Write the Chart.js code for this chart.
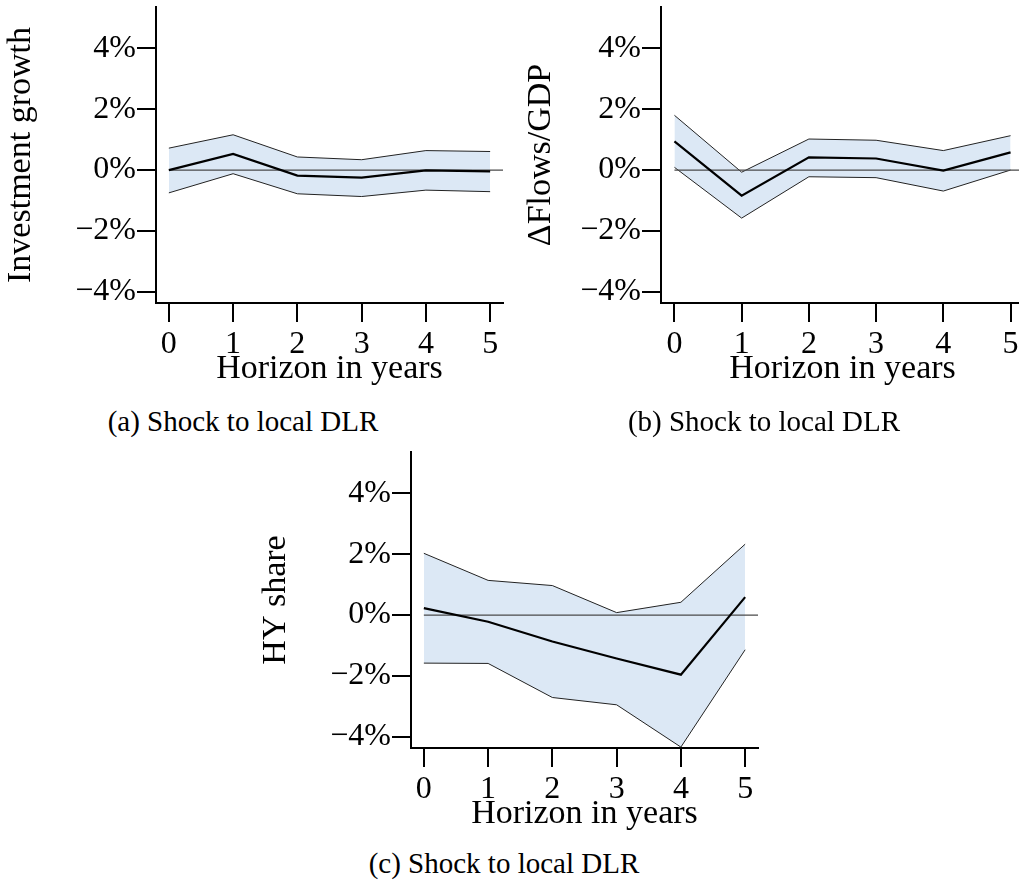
<!DOCTYPE html>
<html>
<head>
<meta charset="utf-8">
<script src="https://cdn.jsdelivr.net/npm/chart.js@4.4.1/dist/chart.umd.min.js"></script>
<style>
  html, body { margin: 0; padding: 0; background: #fff; overflow: hidden; }
  body { width: 1019px; height: 884px; position: relative; }
  canvas { position: absolute; }
  .caption { position: absolute; width: 400px; text-align: center; font-family: 'Liberation Serif', serif; font-size: 29px; line-height: 30px; color: #000; white-space: nowrap; }
</style>
</head>
<body>
<canvas id="chartA" width="515" height="395" style="left:0;top:0;width:515px;height:395px"></canvas>
<canvas id="chartB" width="530" height="395" style="left:505px;top:0;width:530px;height:395px"></canvas>
<canvas id="chartC" width="515" height="395" style="left:255px;top:445px;width:515px;height:395px"></canvas>
<div class="caption" style="left:43px;top:406px">(a) Shock to local DLR</div>
<div class="caption" style="left:564px;top:406px">(b) Shock to local DLR</div>
<div class="caption" style="left:304px;top:848px">(c) Shock to local DLR</div>
<script>
const horizons = [0, 1, 2, 3, 4, 5];
const xTicks = [0, 1, 2, 3, 4, 5];
const yTicks = [-4, -2, 0, 2, 4];
const X_MIN = -0.2, X_MAX = 5.2;
const Y_MIN = -4.37, Y_MAX = 5.36;

// (a) investment growth
const invMid = [0, 0.53, -0.18, -0.25, -0.01, -0.04];
const invUpper = [0.72, 1.16, 0.43, 0.34, 0.64, 0.61];
const invLower = [-0.75, -0.12, -0.78, -0.87, -0.66, -0.71];

// (b) flows / GDP
const flowMid = [0.94, -0.84, 0.42, 0.38, -0.02, 0.58];
const flowUpper = [1.80, -0.07, 1.02, 0.98, 0.64, 1.13];
const flowLower = [0.09, -1.58, -0.22, -0.25, -0.69, 0.0];

// (c) HY share
const hyMid = [0.23, -0.22, -0.87, -1.43, -1.96, 0.59];
const hyUpper = [2.03, 1.14, 0.97, 0.08, 0.42, 2.33];
const hyLower = [-1.58, -1.59, -2.71, -2.95, -4.34, -1.14];

const BAND = '#dce8f5';
const tickFont = { family: "'Liberation Serif', serif", size: 32 };
const titleFont = { family: "'Liberation Serif', serif", size: 34 };

function pts(vals) {
  return horizons.map((h, i) => ({ x: h, y: vals[i] }));
}

// no label-overflow padding, the plot box is fixed by hand
function noPad(s) {
  s.paddingTop = 0;
  s.paddingBottom = 0;
  s.paddingLeft = 0;
  s.paddingRight = 0;
}

function buildPanel(id, yTitle, mid, upper, lower, padRight, yTitlePad) {
  return new Chart(document.getElementById(id), {
    type: 'line',
    data: {
      datasets: [
        { data: pts(mid), borderColor: '#000', borderWidth: 2.2, order: 0 },
        { data: [{ x: horizons[0], y: 0 }, { x: X_MAX, y: 0 }], borderColor: '#4a4a4a', borderWidth: 1.2, order: 1 },
        { data: pts(upper), borderColor: '#222', borderWidth: 1, fill: '+1', backgroundColor: BAND, order: 2 },
        { data: pts(lower), borderColor: '#222', borderWidth: 1, order: 3 }
      ]
    },
    options: {
      responsive: false,
      animation: false,
      devicePixelRatio: 1,
      layout: { autoPadding: false, padding: { left: 0, top: 7, right: padRight, bottom: 0 } },
      plugins: {
        legend: { display: false },
        tooltip: { enabled: false },
        filler: { drawTime: 'beforeDatasetsDraw' }
      },
      elements: { point: { radius: 0 }, line: { tension: 0 } },
      scales: {
        x: {
          type: 'linear', min: X_MIN, max: X_MAX,
          afterBuildTicks: (s) => { s.ticks = xTicks.map((v) => ({ value: v })); },
          afterFit: (s) => { s.height = 92; noPad(s); },
          border: { display: true, color: '#000', width: 2 },
          grid: { drawOnChartArea: false, drawTicks: true, tickLength: 19, color: '#000', lineWidth: 2 },
          ticks: { font: tickFont, color: '#000', padding: 3, maxRotation: 0, autoSkip: false },
          title: { display: true, text: 'Horizon in years', font: titleFont, color: '#000', padding: { top: 0, bottom: 6 } }
        },
        y: {
          type: 'linear', min: Y_MIN, max: Y_MAX,
          afterBuildTicks: (s) => { s.ticks = yTicks.map((v) => ({ value: v })); },
          afterFit: (s) => { s.width = 156; noPad(s); },
          border: { display: true, color: '#000', width: 2 },
          grid: { drawOnChartArea: false, drawTicks: true, tickLength: 19, color: '#000', lineWidth: 2 },
          ticks: {
            font: tickFont, color: '#000', padding: 1, autoSkip: false,
            callback: (v) => (v < 0 ? '\u2212' + Math.abs(v) : v) + '%'
          },
          title: { display: true, text: yTitle, font: titleFont, color: '#000', padding: { top: yTitlePad, bottom: 0 } }
        }
      }
    }
  });
}

buildPanel('chartA', 'Investment growth', invMid, invUpper, invLower, 12, 1);
buildPanel('chartB', '\u0394Flows/GDP', flowMid, flowUpper, flowLower, 11, 16);
buildPanel('chartC', 'HY share', hyMid, hyUpper, hyLower, 12, 1);
</script>
</body>
</html>
